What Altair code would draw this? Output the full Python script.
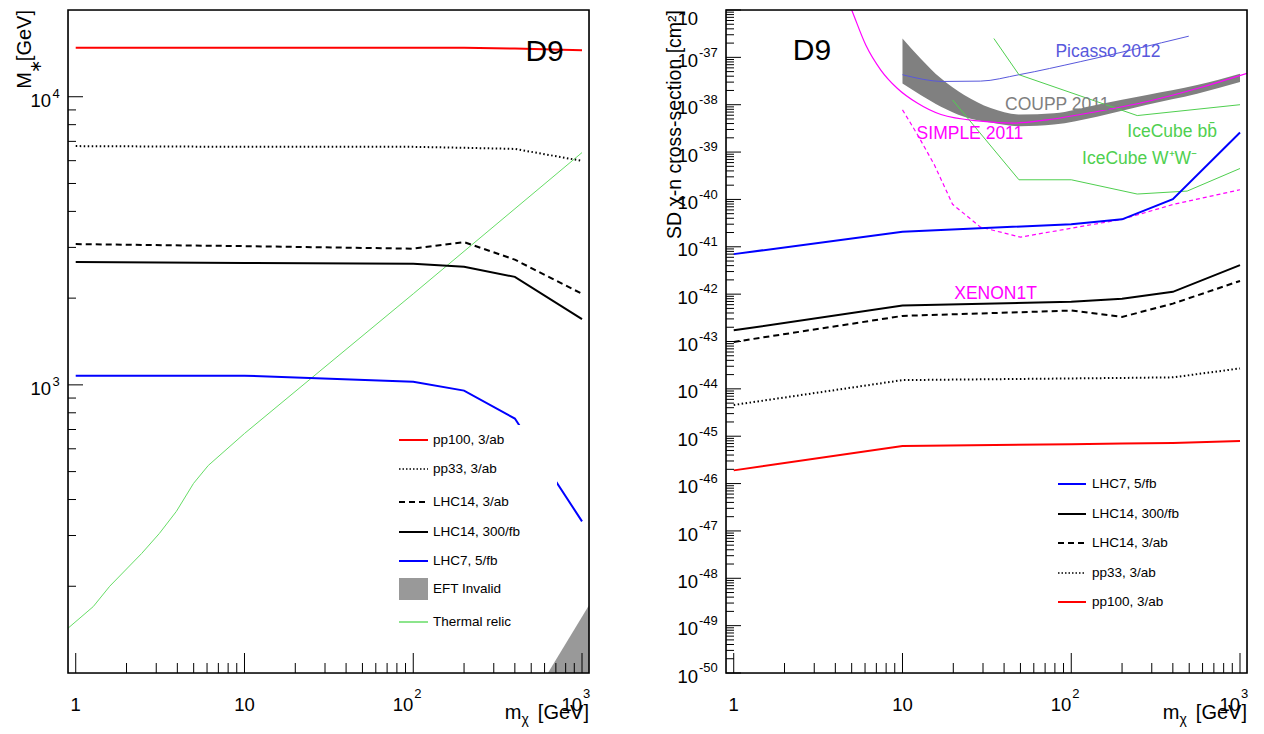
import altair as alt
import pandas as pd

FONT = "Liberation Sans"
W, H = 521, 663
GAP = 137

# ---------------- data ----------------
mchi = [1, 10, 100, 200, 400, 1000]

# Left panel: M* [GeV]
mstar_pp100 = [14800, 14800, 14800, 14800, 14700, 14500]
mstar_pp33 = [6740, 6700, 6700, 6650, 6590, 5990]
mstar_lhc14_3ab = [3080, 3030, 2970, 3130, 2720, 2070]
mstar_lhc14_300fb = [2670, 2650, 2630, 2570, 2370, 1690]
mstar_lhc7_5fb = [1076, 1076, 1025, 955, 764, 336]
relic_mchi = [0.9, 1.27, 1.59, 2.46, 3.13, 3.95, 4.99, 6.1, 10, 100, 1000]
relic_mstar = [143, 170, 200, 260, 305, 364, 455, 525, 678, 2070, 6400]
eft_mchi = [628, 1100]
eft_mstar = [100, 172]

# Right panel: SD chi-n cross-section [cm^2]
sd_lhc7_5fb = [7.0e-42, 2.07e-41, 3.0e-41, 3.8e-41, 1.01e-40, 2.6e-39]
sd_lhc14_300fb = [1.72e-43, 5.75e-43, 6.9e-43, 8.0e-43, 1.12e-42, 4.1e-42]
sd_lhc14_3ab = [9.8e-44, 3.47e-43, 4.5e-43, 3.3e-43, 6.3e-43, 1.9e-42]
sd_pp33 = [4.57e-45, 1.53e-44, 1.66e-44, 1.7e-44, 1.75e-44, 2.7e-44]
sd_pp100 = [1.9e-46, 6.2e-46, 6.8e-46, 7.0e-46, 7.2e-46, 7.9e-46]

picasso_mchi = [10, 17.6, 29, 49, 113, 497]
picasso_sd = [4.3e-38, 3.1e-38, 3.15e-38, 4.3e-38, 8.1e-38, 2.8e-37]

coupp_mchi = [10, 12.8, 16.9, 23.2, 33.3, 50, 79, 142, 281, 557, 1000]
coupp_hi = [2.5e-37, 9.5e-38, 3.6e-38, 1.6e-38, 8.5e-39, 6.2e-39, 6.6e-39, 1.0e-38, 1.6e-38, 2.6e-38, 4.5e-38]
coupp_lo = [2.8e-38, 1.6e-38, 9.1e-39, 5.6e-39, 4.2e-39, 3.5e-39, 3.8e-39, 5.6e-39, 1.0e-38, 1.7e-38, 3.0e-38]

simple_mchi = [4.5, 5.0, 6.07, 7.44, 9.34, 12.3, 16.9, 29, 45.8, 72, 142.5, 282, 557, 1100]
simple_sd = [2.5e-36, 1.0e-36, 1.8e-37, 5.4e-38, 2.2e-38, 1.07e-38, 6.2e-39, 4.5e-39, 4.1e-39,
             4.8e-39, 7.2e-39, 1.17e-38, 2.2e-38, 4.6e-38]

xenon_mchi = [10, 12.3, 15.4, 19.8, 29, 50, 200, 405, 1000]
xenon_sd = [7.8e-39, 2.3e-39, 5.5e-40, 7.9e-41, 2.6e-41, 1.6e-41, 3.8e-41, 7.9e-41, 1.6e-40]

icbb_mchi = [34.8, 49, 246, 1000]
icbb_sd = [2.5e-37, 4.3e-38, 5.9e-39, 1.0e-38]
icww_mchi = [19.8, 49, 100, 246, 486, 1000]
icww_sd = [1.26e-38, 2.6e-40, 2.6e-40, 1.3e-40, 1.5e-40, 4.5e-40]

# annotation labels (text, x, y, colour)
right_note_text = ["Picasso 2012", "COUPP 2011", "SIMPLE 2011", "IceCube b\u0062\u0304",
                   "IceCube W\u207aW\u207b", "XENON1T"]
right_note_x = [165, 82.6, 25.1, 396, 254, 35.6]
right_note_y = [1.0e-37, 7.8e-39, 1.9e-39, 2.1e-39, 5.5e-40, 7.96e-43]
right_note_col = ["#5858dc", "#7f7f7f", "#ff00ff", "#4fcf4f", "#4fcf4f", "#ff00ff"]

# axis ticks
x_major = [1, 10, 100, 1000]
x_minor = [2, 3, 4, 5, 6, 7, 8, 9, 20, 30, 40, 50, 60, 70, 80, 90,
           200, 300, 400, 500, 600, 700, 800, 900]
yl_major = [1000, 10000]
yl_exp = ["3", "4"]
yl_minor = [200, 300, 400, 500, 600, 700, 800, 900, 2000, 3000, 4000, 5000, 6000, 7000, 8000, 9000]
yr_exps = list(range(-50, -36))
yr_major = [10.0 ** k for k in yr_exps]
yr_minor = [m * 10.0 ** k for k in range(-50, -36) for m in range(2, 10)]

# ---------------- helpers ----------------
RED, BLUE, BLACK = "#ff0000", "#0000ff", "#000000"
RELIC = "#66dd66"
MAG = "#ff00ff"
ICE = "#4fcf4f"
PIC = "#5858dc"
DUMMY = pd.DataFrame({"d": [0]})

xs = alt.Scale(type="log", domain=[0.9, 1100], nice=False)
ysL = alt.Scale(type="log", domain=[100, 20000], nice=False)
ysR = alt.Scale(type="log", domain=[1e-50, 1e-36], nice=False)


def curve(xv, yv, ys, color, width, dash=None, interp="linear"):
    df = pd.DataFrame({"x": xv, "y": yv})
    kw = dict(color=color, strokeWidth=width, clip=True, interpolate=interp)
    if dash is not None:
        kw["strokeDash"] = dash
    return alt.Chart(df).mark_line(**kw).encode(
        x=alt.X("x:Q", scale=xs, axis=None),
        y=alt.Y("y:Q", scale=ys, axis=None))


def pix_rule(x1, x2, y, color, width, dash=None):
    kw = dict(color=color, strokeWidth=width)
    if dash is not None:
        kw["strokeDash"] = dash
    return alt.Chart(DUMMY).mark_rule(**kw).encode(
        x=alt.value(x1), x2=alt.value(x2), y=alt.value(y))


def pix_rect(x1, x2, y1, y2, color):
    return alt.Chart(DUMMY).mark_rect(color=color).encode(
        x=alt.value(x1), x2=alt.value(x2), y=alt.value(y1), y2=alt.value(y2))


def frame():
    return alt.Chart(DUMMY).mark_rect(fillOpacity=0, stroke="black", strokeWidth=1.6).encode(
        x=alt.value(0), x2=alt.value(W), y=alt.value(0), y2=alt.value(H))


def pix_text(txt, x, y, size, align="left", baseline="alphabetic", angle=None, color="black"):
    kw = dict(text=txt, font=FONT, fontSize=size, align=align, baseline=baseline, color=color)
    if angle is not None:
        kw["angle"] = angle
    return alt.Chart(DUMMY).mark_text(**kw).encode(x=alt.value(x), y=alt.value(y))


def x_axis_layers():
    maj = alt.Chart(pd.DataFrame({"v": x_major})).mark_rule(color="black", strokeWidth=1).encode(
        x=alt.X("v:Q", scale=xs, axis=None), y=alt.value(H), y2=alt.value(H - 20))
    mnr = alt.Chart(pd.DataFrame({"v": x_minor})).mark_rule(color="black", strokeWidth=1).encode(
        x=alt.X("v:Q", scale=xs, axis=None), y=alt.value(H), y2=alt.value(H - 10))
    plain = alt.Chart(pd.DataFrame({"v": [1, 10], "t": ["1", "10"]})).mark_text(
        font=FONT, fontSize=18.5, align="center", baseline="alphabetic", color="black").encode(
        x=alt.X("v:Q", scale=xs, axis=None), y=alt.value(H + 38), text="t:N")
    powdf = pd.DataFrame({"v": [100, 1000], "b": ["10", "10"], "e": ["2", "3"]})
    pbase = alt.Chart(powdf).mark_text(
        font=FONT, fontSize=18.5, align="right", baseline="alphabetic", color="black").encode(
        x=alt.X("v:Q", scale=xs, axis=None), y=alt.value(H + 38), text="b:N")
    pexp = alt.Chart(powdf).mark_text(
        font=FONT, fontSize=13, align="left", baseline="alphabetic", color="black", dx=1).encode(
        x=alt.X("v:Q", scale=xs, axis=None), y=alt.value(H + 25), text="e:N")
    t1 = pix_text("[GeV]", W, H + 46, 20, align="right")
    t2 = pix_text("\u03c7", W - 67.5, H + 50.5, 14, align="left")
    t3 = pix_text("m", W - 67.5, H + 46, 20, align="right")
    return [maj, mnr, plain, pbase, pexp, t1, t2, t3]


def y_axis_layers(ys, major, minor, exps, xbase, xexp, dyb, dye):
    maj = alt.Chart(pd.DataFrame({"v": major})).mark_rule(color="black", strokeWidth=1).encode(
        y=alt.Y("v:Q", scale=ys, axis=None), x=alt.value(0), x2=alt.value(15))
    mnr = alt.Chart(pd.DataFrame({"v": minor})).mark_rule(color="black", strokeWidth=1).encode(
        y=alt.Y("v:Q", scale=ys, axis=None), x=alt.value(0), x2=alt.value(8))
    df = pd.DataFrame({"v": major, "b": ["10"] * len(major), "e": exps})
    base = alt.Chart(df).mark_text(font=FONT, fontSize=18.5, align="right", baseline="alphabetic",
                                   color="black", dy=dyb).encode(
        y=alt.Y("v:Q", scale=ys, axis=None), x=alt.value(xbase), text="b:N")
    ex = alt.Chart(df).mark_text(font=FONT, fontSize=13, align="left", baseline="alphabetic",
                                 color="black", dy=dye).encode(
        y=alt.Y("v:Q", scale=ys, axis=None), x=alt.value(xexp), text="e:N")
    return [maj, mnr, base, ex]


# ---------------- left panel ----------------
eft_df = pd.DataFrame({"x": eft_mchi, "y": eft_mstar, "y0": [100, 100]})
eft = alt.Chart(eft_df).mark_area(color="#999999", clip=True).encode(
    x=alt.X("x:Q", scale=xs, axis=None),
    y=alt.Y("y:Q", scale=ysL, axis=None),
    y2="y0:Q")

left_layers = [
    eft,
    curve(relic_mchi, relic_mstar, ysL, RELIC, 1),
    curve(mchi, mstar_pp100, ysL, RED, 2),
    curve(mchi, mstar_pp33, ysL, BLACK, 2, dash=[1.5, 2.5]),
    curve(mchi, mstar_lhc14_3ab, ysL, BLACK, 2, dash=[6, 4]),
    curve(mchi, mstar_lhc14_300fb, ysL, BLACK, 2),
    curve(mchi, mstar_lhc7_5fb, ysL, BLUE, 2),
    pix_rect(328, 489, 415, 630, "white"),
]
left_leg = [
    ("line", RED, 2, None, "pp100, 3/ab", 430),
    ("line", BLACK, 1.5, [1.5, 2], "pp33, 3/ab", 459),
    ("line", BLACK, 2, [6, 4], "LHC14, 3/ab", 492),
    ("line", BLACK, 2, None, "LHC14, 300/fb", 522),
    ("line", BLUE, 2, None, "LHC7, 5/fb", 551),
    ("box", "#999999", 0, None, "EFT Invalid", 579),
    ("line", RELIC, 1.5, None, "Thermal relic", 612),
]
for kind, col, wd, dash, lab, yy in left_leg:
    if kind == "line":
        left_layers.append(pix_rule(331, 360, yy, col, wd, dash))
    else:
        left_layers.append(pix_rect(331, 360, yy - 11, yy + 11, col))
    left_layers.append(pix_text(lab, 365, yy, 13.5, baseline="middle"))

left_layers += x_axis_layers()
left_layers += y_axis_layers(ysL, yl_major, yl_minor, yl_exp, -17, -15.5, 10.6, 1.5)
left_layers += [
    pix_text("[GeV]", -37, 0, 20, align="right", angle=270),
    pix_text("\u2217", -27, 56, 16, align="center", angle=270),
    pix_text("M", -37, 62, 20, align="right", angle=270),
]
d9L = alt.Chart(pd.DataFrame({"x": [600], "y": [13300], "t": ["D9"]})).mark_text(
    font=FONT, fontSize=30, align="center", baseline="alphabetic", color="black").encode(
    x=alt.X("x:Q", scale=xs, axis=None), y=alt.Y("y:Q", scale=ysL, axis=None), text="t:N")
left_layers.append(d9L)
left_layers.append(frame())
left_layers.append(pix_rect(-59, -58, 300, 301, "white"))

left = alt.layer(*left_layers).properties(width=W, height=H)

# ---------------- right panel ----------------
band_df = pd.DataFrame({"x": coupp_mchi, "lo": coupp_lo, "hi": coupp_hi})
band = alt.Chart(band_df).mark_area(color="#808080", clip=True, interpolate="monotone").encode(
    x=alt.X("x:Q", scale=xs, axis=None),
    y=alt.Y("lo:Q", scale=ysR, axis=None),
    y2="hi:Q")

right_layers = [
    band,
    curve(picasso_mchi, picasso_sd, ysR, PIC, 1, interp="monotone"),
    curve(icbb_mchi, icbb_sd, ysR, ICE, 1),
    curve(icww_mchi, icww_sd, ysR, ICE, 1),
    curve(simple_mchi, simple_sd, ysR, MAG, 1.2, interp="monotone"),
    curve(xenon_mchi, xenon_sd, ysR, MAG, 1.2, dash=[4, 3]),
    curve(mchi, sd_pp100, ysR, RED, 2),
    curve(mchi, sd_pp33, ysR, BLACK, 2, dash=[1.5, 2.5]),
    curve(mchi, sd_lhc14_3ab, ysR, BLACK, 2, dash=[6, 4]),
    curve(mchi, sd_lhc14_300fb, ysR, BLACK, 2),
    curve(mchi, sd_lhc7_5fb, ysR, BLUE, 2),
]
notes_df = pd.DataFrame({"t": right_note_text, "x": right_note_x, "y": right_note_y,
                         "c": right_note_col})
notes = alt.Chart(notes_df).mark_text(font=FONT, fontSize=17.5, align="center",
                                      baseline="alphabetic").encode(
    x=alt.X("x:Q", scale=xs, axis=None), y=alt.Y("y:Q", scale=ysR, axis=None),
    text="t:N", color=alt.Color("c:N", scale=None))
right_layers.append(notes)
d9R = alt.Chart(pd.DataFrame({"x": [2.91], "y": [8.8e-38], "t": ["D9"]})).mark_text(
    font=FONT, fontSize=30, align="center", baseline="alphabetic", color="black").encode(
    x=alt.X("x:Q", scale=xs, axis=None), y=alt.Y("y:Q", scale=ysR, axis=None), text="t:N")
right_layers.append(d9R)

right_leg = [
    (BLUE, 2, None, "LHC7, 5/fb", 474),
    (BLACK, 2, None, "LHC14, 300/fb", 504),
    (BLACK, 2, [6, 4], "LHC14, 3/ab", 533),
    (BLACK, 1.5, [1.5, 2], "pp33, 3/ab", 563),
    (RED, 2, None, "pp100, 3/ab", 592),
]
for col, wd, dash, lab, yy in right_leg:
    right_layers.append(pix_rule(332, 360, yy, col, wd, dash))
    right_layers.append(pix_text(lab, 366, yy, 13.5, baseline="middle"))

right_layers += x_axis_layers()
right_layers += y_axis_layers(ysR, yr_major, yr_minor, [str(k) for k in yr_exps], -28, -27, 9.6, -0.65)
# top label (exponent cut off at the page edge in the original)
right_layers.append(pix_text("10", -28, 14.5, 18.5, align="right"))
right_layers.append(pix_rule(0, 15, 0, "black", 1))
right_layers.append(pix_text("SD  \u03c7-n cross-section [cm\u00b2]", -45, 0, 19.5,
                             align="right", angle=270))
right_layers.append(frame())

right = alt.layer(*right_layers).properties(width=W, height=H)

chart = alt.hconcat(left, right, spacing=GAP, bounds="flush").properties(
    padding={"left": 0, "top": 0, "right": 4, "bottom": 4}
).configure_view(strokeWidth=0).configure(background="white")

chart.save("out.html", embed_options={"renderer": "svg", "actions": False})
